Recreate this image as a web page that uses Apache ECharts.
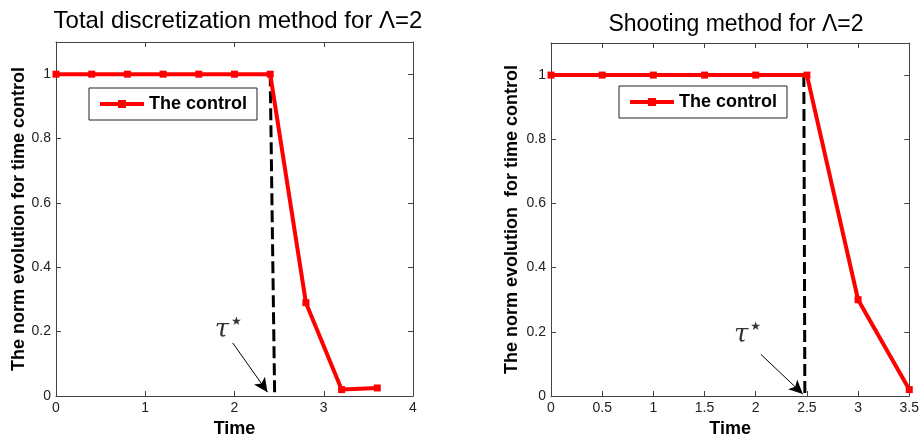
<!DOCTYPE html>
<html><head><meta charset="utf-8">
<script src="https://cdn.jsdelivr.net/npm/echarts@6/dist/echarts.min.js"></script>
<style>html,body{margin:0;padding:0;background:#fff}#c{width:922px;height:443px}</style>
</head><body><div id="c"></div>
<script>
// ---- data ----
const leftTitle = 'Total discretization method for \u039B=2';
const rightTitle = 'Shooting method for \u039B=2';
const leftYName = 'The norm evolution for time control';
const rightYName = 'The norm evolution  for time control';
const xName = 'Time';
const seriesName = 'The control';

const leftTime = [0, 0.4, 0.8, 1.2, 1.6, 2.0, 2.4, 2.8, 3.2, 3.6];
const leftControl = [1, 1, 1, 1, 1, 1, 1, 0.29, 0.02, 0.025];
const rightTime = [0, 0.5, 1, 1.5, 2, 2.5, 3, 3.5];
const rightControl = [1, 1, 1, 1, 1, 1, 0.3, 0.02];

const leftTauLine = [[2.4, 1], [2.45, 0]];
const rightTauLine = [[2.47, 1], [2.48, 0]];
const leftArrow = [[1.98, 0.165], [2.37, 0.012]];
const rightArrow = [[2.05, 0.13], [2.46, 0.006]];
const leftTauLabel = [1.93, 0.205];
const rightTauLabel = [1.92, 0.19];

const leftXTicks = {min: 0, max: 4, interval: 1};
const rightXTicks = {min: 0, max: 3.5, interval: 0.5};
const yTicks = {min: 0, max: 1.1, interval: 0.2};

// ---- chart ----
const FONT = 'Liberation Sans, Arial, sans-serif';
const AX = '#444';
const grids = [
  {left: 56, top: 42, width: 357, height: 356},
  {left: 551, top: 43, width: 362, height: 360}
];
function xAxes(gi, t, name, gap) {
  return [{
    type: 'value', gridIndex: gi, min: t.min, max: t.max, interval: t.interval, position: 'bottom',
    axisLine: {show: true, onZero: false, lineStyle: {color: AX, width: 1}},
    axisTick: {show: true, inside: true, length: 5, lineStyle: {color: AX}},
    axisLabel: {color: '#222', fontSize: 14, fontFamily: FONT, margin: 5, showMaxLabel: true, showMinLabel: true},
    splitLine: {show: false},
    name: name, nameLocation: 'middle', nameGap: 24,
    nameTextStyle: {fontWeight: 'bold', fontSize: 18, fontFamily: FONT, color: '#000'}
  }, {
    type: 'value', gridIndex: gi, min: t.min, max: t.max, interval: t.interval, position: 'top',
    axisLine: {show: true, onZero: false, lineStyle: {color: AX, width: 1}},
    axisTick: {show: true, inside: true, length: 5, lineStyle: {color: AX}},
    axisLabel: {show: false}, splitLine: {show: false}
  }];
}
function yAxes(gi, name, gap) {
  return [{
    type: 'value', gridIndex: gi, min: yTicks.min, max: yTicks.max, interval: yTicks.interval, position: 'left',
    axisLine: {show: true, onZero: false, lineStyle: {color: AX, width: 1}},
    axisTick: {show: true, inside: true, length: 5, lineStyle: {color: AX}},
    axisLabel: {color: '#222', fontSize: 14, fontFamily: FONT, margin: 5, showMaxLabel: false,
      formatter: v => (Math.abs(v - 1.1) < 1e-9 ? '' : String(Math.round(v * 10) / 10))},
    splitLine: {show: false},
    name: name, nameLocation: 'middle', nameGap: gap, nameRotate: 90,
    nameTextStyle: {fontWeight: 'bold', fontSize: 18, fontFamily: FONT, color: '#000'}
  }, {
    type: 'value', gridIndex: gi, min: yTicks.min, max: yTicks.max, interval: yTicks.interval, position: 'right',
    axisLine: {show: true, onZero: false, lineStyle: {color: AX, width: 1}},
    axisTick: {show: true, inside: true, length: 5, lineStyle: {color: AX}},
    axisLabel: {show: false}, splitLine: {show: false}
  }];
}
function controlSeries(xi, yi, xs, ys) {
  return {
    name: seriesName, type: 'line', xAxisIndex: xi, yAxisIndex: yi,
    data: xs.map((x, i) => [x, ys[i]]),
    symbol: 'rect', symbolSize: 7, showSymbol: true,
    lineStyle: {color: '#ff0000', width: 4}, itemStyle: {color: '#ff0000'},
    z: 3, clip: false
  };
}
function tauSeries(xi, yi, line, arrow, lab) {
  return [{
    type: 'line', xAxisIndex: xi, yAxisIndex: yi, data: line, symbol: 'none',
    lineStyle: {color: '#000', width: 3, type: [12, 5]}, z: 2,
    markLine: {
      silent: true, symbol: ['none', 'arrow'], symbolSize: [10, 14],
      lineStyle: {color: '#000', width: 1, type: 'solid'}, label: {show: false},
      data: [[{coord: arrow[0]}, {coord: arrow[1]}]]
    }
  }, {
    type: 'scatter', xAxisIndex: xi, yAxisIndex: yi, data: [lab], symbolSize: 1,
    itemStyle: {color: 'rgba(0,0,0,0)'}, silent: true,
    label: {show: true, position: 'inside', formatter: '{t|\u03C4}{s|\u2605}',
      rich: {
        t: {fontFamily: 'DejaVu Serif', fontStyle: 'italic', fontSize: 26, color: '#000'},
        s: {fontFamily: 'DejaVu Sans', fontSize: 12, color: '#000', verticalAlign: 'top', padding: [0, 0, 16, 2]}
      }}
  }];
}
function legend(left, top) {
  return {
    data: [seriesName], left: left, top: top, orient: 'vertical',
    borderColor: '#222', borderWidth: 1, backgroundColor: '#fff',
    padding: [7, 10, 7, 9], itemWidth: 44, itemHeight: 10, itemGap: 4,
    lineStyle: {width: 4},
    textStyle: {fontWeight: 'bold', fontSize: 18, fontFamily: FONT, color: '#000'},
    selectedMode: false
  };
}
const option = {
  animation: false,
  backgroundColor: '#fff',
  title: [
    {text: leftTitle, left: 233, top: 4, textAlign: 'center',
      textStyle: {fontWeight: 'normal', fontSize: 24, fontFamily: FONT, color: '#000'}},
    {text: rightTitle, left: 731, top: 8, textAlign: 'center',
      textStyle: {fontWeight: 'normal', fontSize: 23, fontFamily: FONT, color: '#000'}}
  ],
  legend: [legend(89, 88), legend(619, 86)],
  grid: grids,
  xAxis: [...xAxes(0, leftXTicks, xName, 24), ...xAxes(1, rightXTicks, xName, 20)],
  yAxis: [...yAxes(0, leftYName, 28), ...yAxes(1, rightYName, 30)],
  series: [
    ...tauSeries(0, 0, leftTauLine, leftArrow, leftTauLabel),
    controlSeries(0, 0, leftTime, leftControl),
    ...tauSeries(2, 2, rightTauLine, rightArrow, rightTauLabel),
    controlSeries(2, 2, rightTime, rightControl)
  ]
};
echarts.init(document.getElementById('c'), null, {renderer: 'canvas'}).setOption(option);
</script></body></html>
